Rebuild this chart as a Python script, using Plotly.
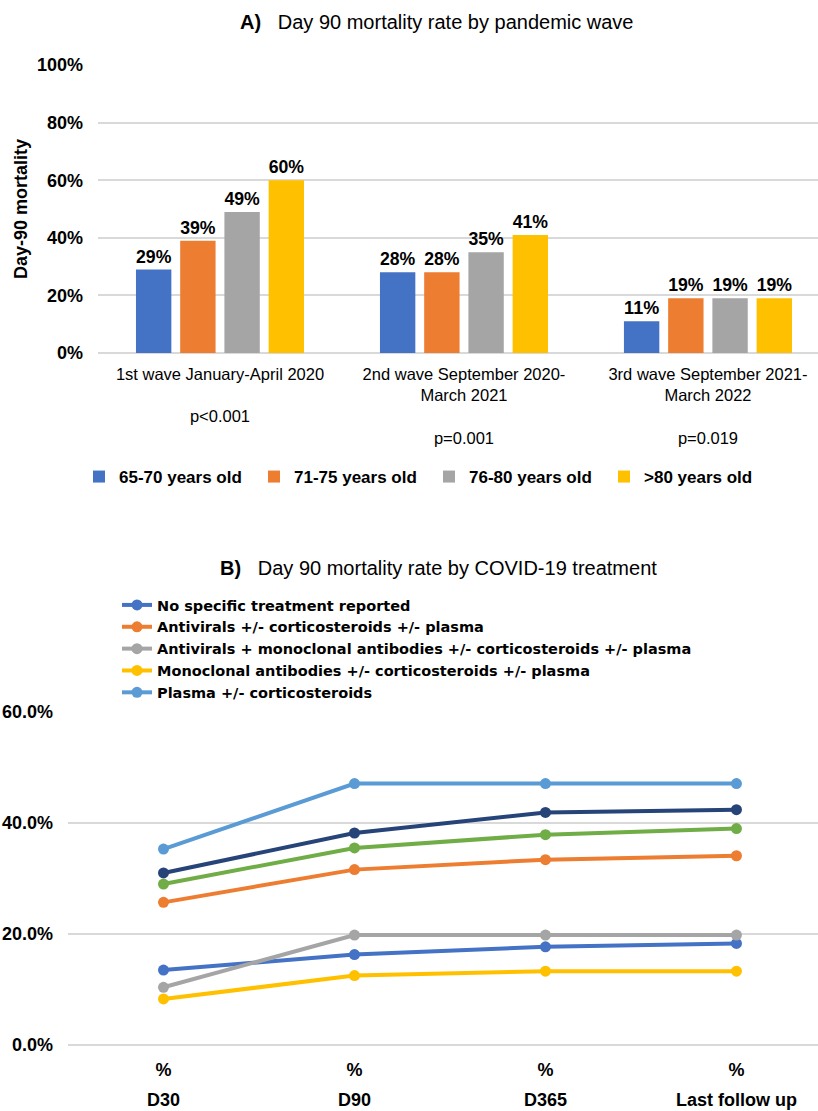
import plotly.graph_objects as go

W, H = 818, 1111

# ---------------- Panel A data ----------------
waves = [
    "1st wave January-April 2020<br><br>p&lt;0.001",
    "2nd wave September 2020-<br>March 2021<br><br>p=0.001",
    "3rd wave September 2021-<br>March 2022<br><br>p=0.019",
]
age_groups = ["65-70 years old", "71-75 years old", "76-80 years old", ">80 years old"]
mort_65_70 = [0.29, 0.28, 0.11]
mort_71_75 = [0.39, 0.28, 0.19]
mort_76_80 = [0.49, 0.35, 0.19]
mort_80p = [0.60, 0.41, 0.19]
bar_colors = ["#4472C4", "#ED7D31", "#A5A5A5", "#FFC000"]

# ---------------- Panel B data ----------------
timepoints = ["D30", "D90", "D365", "Last follow up"]
tp_unit = ["%", "%", "%", "%"]
treat_names = [
    "No specific treatment reported",
    "Antivirals +/- corticosteroids +/- plasma",
    "Antivirals + monoclonal antibodies +/- corticosteroids +/- plasma",
    "Monoclonal antibodies +/- corticosteroids +/- plasma",
    "Plasma +/- corticosteroids",
    "Series 6",
    "Series 7",
]
no_treatment = [0.135, 0.163, 0.177, 0.183]
antivirals = [0.257, 0.316, 0.334, 0.341]
antivirals_mab = [0.104, 0.198, 0.198, 0.198]
mab = [0.083, 0.125, 0.133, 0.133]
plasma = [0.353, 0.471, 0.471, 0.471]
series6 = [0.310, 0.382, 0.419, 0.424]
series7 = [0.290, 0.355, 0.379, 0.390]
line_colors = ["#4472C4", "#ED7D31", "#A5A5A5", "#FFC000", "#5B9BD5", "#264478", "#70AD47"]
in_legend = [True, True, True, True, True, False, False]

FONT = "Liberation Sans, Arial, sans-serif"
WIDE = "DejaVu Sans, Liberation Sans, sans-serif"
GRID = "#D9D9D9"

fig = go.Figure()

xa = list(range(len(waves)))
for name, vals, col in zip(age_groups, [mort_65_70, mort_71_75, mort_76_80, mort_80p], bar_colors):
    fig.add_trace(go.Bar(
        x=xa, y=vals, name=name, marker_color=col, marker_line_width=0,
        texttemplate="%{y:.0%}", textposition="outside",
        textfont=dict(family=FONT, size=18, color="black", weight="bold"),
        cliponaxis=False, xaxis="x", yaxis="y", legend="legend",
    ))

xb = list(range(len(timepoints)))
series_b = [no_treatment, antivirals, antivirals_mab, mab, plasma, series6, series7]
for name, vals, col, show in zip(treat_names, series_b, line_colors, in_legend):
    fig.add_trace(go.Scatter(
        x=xb, y=vals, name=name, mode="lines+markers",
        line=dict(color=col, width=4), marker=dict(color=col, size=11),
        showlegend=show, xaxis="x2", yaxis="y2", legend="legend2", cliponaxis=False,
    ))

def px_x(p):
    return p / W

def px_y(p):
    return 1 - p / H

fig.update_layout(
    width=W, height=H,
    margin=dict(l=0, r=0, t=0, b=0, autoexpand=False),
    paper_bgcolor="white", plot_bgcolor="white",
    font=dict(family=FONT, color="black"),
    barmode="group", bargap=0.275, bargroupgap=0.2,
    xaxis=dict(
        domain=[px_x(98), 1], range=[-0.5, 2.451], automargin=False,
        tickvals=xa, ticktext=waves, tickfont=dict(size=16.5),
        showgrid=False, zeroline=False, showline=False, ticks="",
        anchor="y", ticklabelstandoff=9,
    ),
    yaxis=dict(
        domain=[px_y(353), px_y(65)], range=[0, 1], dtick=0.2, tickformat=".0%",
        automargin=False,
        tickfont=dict(size=18, weight="bold"), gridcolor=GRID, gridwidth=1.5,
        zeroline=True, zerolinecolor=GRID, zerolinewidth=1.5, ticks="",
        ticklabelstandoff=14,
        title=dict(text="Day-90 mortality", font=dict(size=18, weight="bold"), standoff=4),
        anchor="x",
    ),
    xaxis2=dict(
        domain=[px_x(68), 1], range=[-0.5, 3.427], automargin=False,
        tickvals=xb, ticktext=tp_unit, tickfont=dict(size=18, weight="bold"),
        showgrid=False, zeroline=False, showline=False, ticks="",
        anchor="y2", ticklabelstandoff=12,
    ),
    yaxis2=dict(
        domain=[px_y(1045), px_y(712)], range=[0, 0.6], dtick=0.2, tickformat=".1%",
        automargin=False,
        tickfont=dict(size=18, weight="bold"), gridcolor=GRID, gridwidth=1.5,
        zeroline=True, zerolinecolor=GRID, zerolinewidth=1.5, ticks="",
        ticklabelstandoff=14, anchor="x2",
    ),
    legend=dict(
        orientation="h", x=px_x(79), xanchor="left", y=px_y(477), yanchor="middle",
        font=dict(size=17, weight="bold"), entrywidth=130, entrywidthmode="pixels",
        bgcolor="rgba(0,0,0,0)",
    ),
    legend2=dict(
        orientation="v", x=px_x(117), xanchor="left", y=px_y(589), yanchor="top",
        font=dict(family=WIDE, size=14.5, weight="bold"), tracegroupgap=0,
        bgcolor="rgba(0,0,0,0)",
    ),
)

annotations = [
    dict(text="<b>A)</b>   Day 90 mortality rate by pandemic wave", x=px_x(437), y=px_y(22),
         xref="paper", yref="paper", showarrow=False, font=dict(size=20), xanchor="center", yanchor="middle"),
    dict(text="<b>B)</b>   Day 90 mortality rate by COVID-19 treatment", x=px_x(438), y=px_y(568),
         xref="paper", yref="paper", showarrow=False, font=dict(size=20), xanchor="center", yanchor="middle"),
]
for i, tp in enumerate(timepoints):
    annotations.append(dict(text=tp, x=i, xref="x2", y=px_y(1100), yref="paper", showarrow=False,
                            font=dict(size=18, weight="bold"), xanchor="center", yanchor="middle"))
fig.update_layout(annotations=annotations)

fig.write_html("out.html", config={"displayModeBar": False},
               post_script="document.body.style.margin='0px';")
